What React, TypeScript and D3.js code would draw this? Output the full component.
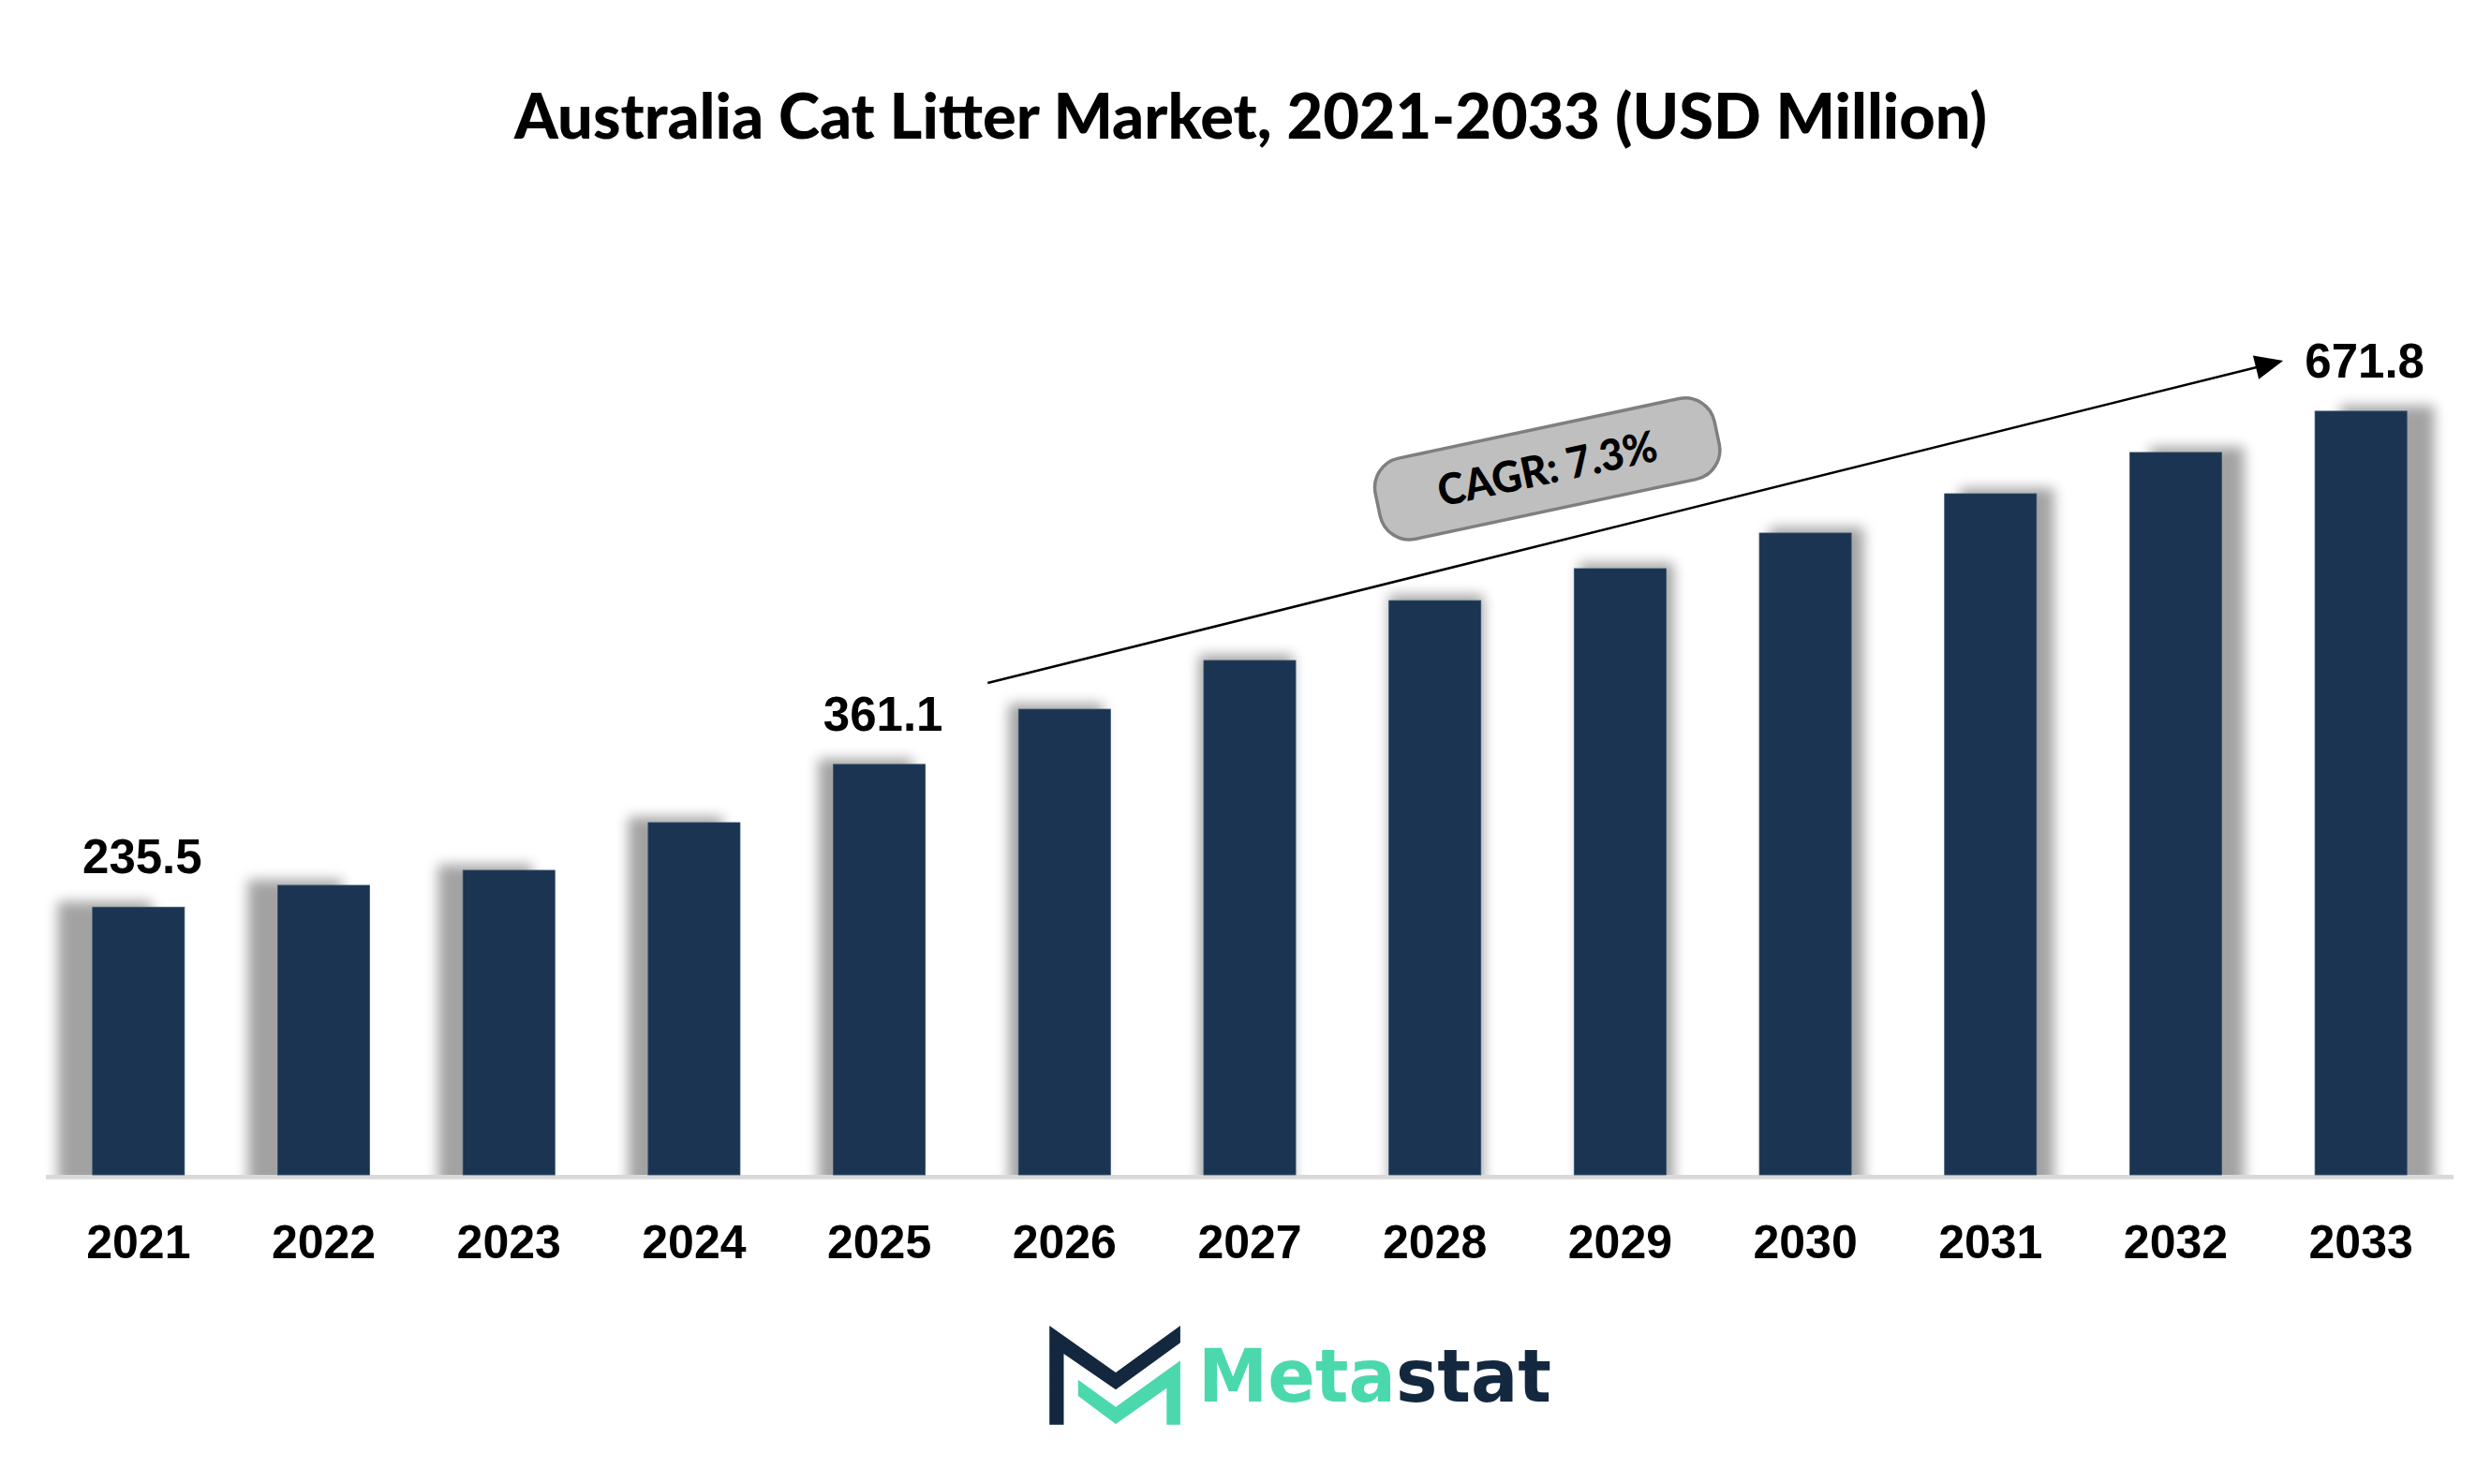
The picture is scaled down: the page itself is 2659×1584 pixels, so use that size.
import React from 'react';
import * as d3 from 'd3';

const chartTitle = 'Australia Cat Litter Market, 2021-2033 (USD Million)';
const years = ['2021', '2022', '2023', '2024', '2025', '2026', '2027', '2028', '2029', '2030', '2031', '2032', '2033'];
const values = [235.5, 254.7, 267.9, 309.9, 361.1, 409.6, 452.5, 505.2, 533.3, 564.6, 599.2, 635.5, 671.8];
const labeledYears = ['2021', '2025', '2033'];
const cagrText = 'CAGR: 7.3%';
const brandA = 'Meta';
const brandB = 'stat';

const W = 2659;
const H = 1584;
const BASE = 1254;
const BAR = '#1a3451';
const GREEN = '#4cd8ad';
const NAVY = '#13283f';

export default function App() {
  const x = d3.scaleBand<string>().domain(years).range([49, 2619]).paddingInner(0.504).paddingOuter(0.252);
  const y = d3.scaleLinear().domain([0, 700]).range([BASE, BASE - 700 * 1.2133]);
  const bw = x.bandwidth();
  const cx = 1480;
  const sh = 1.027;

  // arrow annotation derived from the scales
  const sx = (x('2026') as number) - 33;
  const sy = y(values[5]) - 28;
  const ex = (x('2033') as number) - 34;
  const ey = y(values[12]) - 54;
  const len = Math.hypot(ex - sx, ey - sy);
  const ux = (ex - sx) / len;
  const uy = (ey - sy) / len;
  const headL = 30;
  const headW = 13;
  const bx = ex - ux * headL;
  const by = ey - uy * headL;
  const head = `${ex},${ey} ${bx - uy * headW},${by + ux * headW} ${bx + uy * headW},${by - ux * headW}`;
  const t = 0.432;
  const boxCx = sx + t * (ex - sx);
  const boxCy = sy + t * (ey - sy) - 80;
  const boxW = 370;
  const boxH = 88;

  return (
    <svg width={W} height={H} style={{ position: 'absolute', left: 0, top: 0, background: '#fff' }}>
      <defs>
        <filter id="blur" x="-50%" y="-50%" width="200%" height="200%">
          <feGaussianBlur stdDeviation="7" />
        </filter>
        <clipPath id="plotClip">
          <rect x={0} y={0} width={W} height={BASE} />
        </clipPath>
      </defs>
      <rect x={0} y={0} width={W} height={H} fill="#fff" />

      <text x={549} y={148} fontFamily="Lato, 'Open Sans', sans-serif" fontWeight={900} fontSize={66}
        textLength={1572} lengthAdjust="spacingAndGlyphs" fill="#000">{chartTitle}</text>

      <g clipPath="url(#plotClip)">
        {years.map((yr, i) => {
          const x0 = x(yr) as number;
          const nx = cx + (x0 - cx) * sh;
          return (
            <rect key={'s' + yr} x={nx} y={y(values[i]) - 6} width={bw * sh} height={BASE - y(values[i]) + 20}
              fill="#000" opacity={0.36} filter="url(#blur)" />
          );
        })}
      </g>

      <line x1={49} x2={2619} y1={BASE + 2.35} y2={BASE + 2.35} stroke="#d9d9d9" strokeWidth={4.7} />

      {years.map((yr, i) => (
        <rect key={'b' + yr} x={x(yr)} y={y(values[i])} width={bw} height={BASE - y(values[i])}
          fill={BAR} stroke="#34506f" strokeWidth={0.8} />
      ))}

      {years.map((yr, i) => labeledYears.includes(yr) ? (
        <text key={'v' + yr} x={(x(yr) as number) + bw / 2 + 4} y={y(values[i]) - 36} textAnchor="middle"
          fontFamily="'Liberation Sans', Arial, sans-serif" fontWeight={700} fontSize={51} fill="#000">
          {values[i].toFixed(1)}
        </text>
      ) : null)}

      {years.map((yr) => (
        <text key={'x' + yr} x={(x(yr) as number) + bw / 2} y={1343} textAnchor="middle"
          fontFamily="'Liberation Sans', Arial, sans-serif" fontWeight={700} fontSize={50} fill="#000">
          {yr}
        </text>
      ))}

      <line x1={sx} y1={sy} x2={bx + ux * 2} y2={by + uy * 2} stroke="#000" strokeWidth={2.5} />
      <polygon points={head} fill="#000" />

      <g transform={`translate(${boxCx},${boxCy}) rotate(-12)`}>
        <rect x={-boxW / 2} y={-boxH / 2} width={boxW} height={boxH} rx={32} ry={32}
          fill="#bfbfbf" stroke="#7f7f7f" strokeWidth={3.5} />
        <text x={0} y={16} textAnchor="middle" fontFamily="Lato, 'Open Sans', sans-serif" fontWeight={900}
          fontSize={46} textLength={238} lengthAdjust="spacingAndGlyphs" fill="#000">{cagrText}</text>
      </g>

      <g>
        <polygon points="1120.2,1415 1191,1465 1259.9,1415 1259.9,1433.3 1191,1483.3 1135.5,1445 1135.5,1520.7 1120.2,1520.7" fill={NAVY} />
        <polygon points="1150.8,1472.7 1191,1501.7 1259.9,1452.3 1259.9,1520.7 1245.3,1520.7 1245.3,1481.7 1191,1520 1150.8,1490" fill={GREEN} />
        <text x={1279} y={1496} fontFamily="'DejaVu Sans', sans-serif" fontWeight={700} fontSize={78}
          textLength={377} lengthAdjust="spacingAndGlyphs">
          <tspan fill={GREEN}>{brandA}</tspan>
          <tspan fill={NAVY}>{brandB}</tspan>
        </text>
      </g>
    </svg>
  );
}
